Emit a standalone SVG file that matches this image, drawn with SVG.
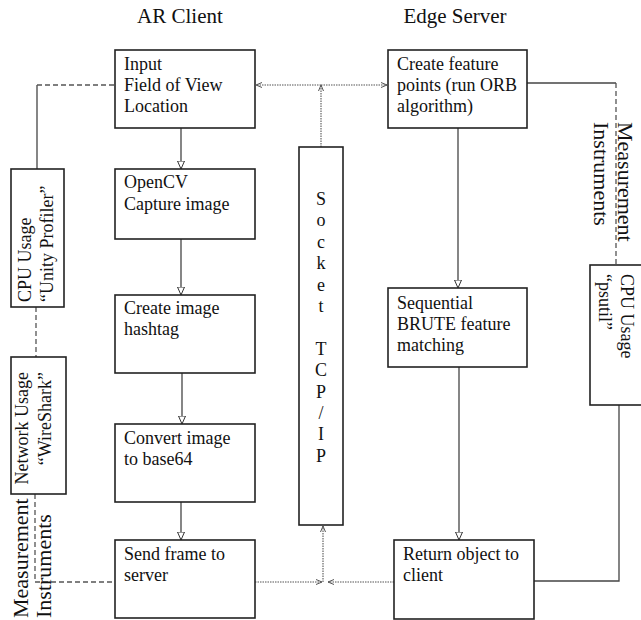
<svg xmlns="http://www.w3.org/2000/svg" width="641" height="620" viewBox="0 0 641 620">
<defs>
<style>
text{font-family:"Liberation Serif","Times New Roman",serif;fill:#111;}
.t{font-size:18px;}
.h{font-size:21px;text-anchor:middle;}
.m{font-size:22px;}
.box{fill:#fff;stroke:#222;stroke-width:1.6;}
.sol{fill:none;stroke:#444;stroke-width:1.3;}
.dash{fill:none;stroke:#555;stroke-width:1.3;stroke-dasharray:5,3;}
.dot{fill:none;stroke:#555;stroke-width:1.1;stroke-dasharray:1.5,1;}
.arr{marker-end:url(#tri);}
.sk{font-size:18px;text-anchor:middle;}
</style>
<marker id="tri" markerUnits="userSpaceOnUse" markerWidth="10" markerHeight="10" refX="8" refY="3.5" orient="auto">
<path d="M0,0 L8,3.5 L0,7 Z" fill="#fff" stroke="#333" stroke-width="1"/>
</marker>
<marker id="chev" markerUnits="userSpaceOnUse" markerWidth="8" markerHeight="8" refX="6" refY="3" orient="auto">
<path d="M0,0.5 L6,3 L0,5.5" fill="none" stroke="#555" stroke-width="1"/>
</marker>
</defs>
<rect width="641" height="620" fill="#fff"/>

<text class="h" x="180" y="23">AR Client</text>
<text class="h" x="455" y="23">Edge Server</text>

<g id="connectors">
<path class="sol arr" d="M181,128 V169"/>
<path class="sol arr" d="M181,239 V295"/>
<path class="sol arr" d="M182,373 V424"/>
<path class="sol arr" d="M181,502 V540"/>
<path class="sol arr" d="M458,128 V288"/>
<path class="sol arr" d="M459,367 V540"/>
<path class="dot" d="M321,147 V85" marker-end="url(#chev)"/>
<path class="dot" d="M321,85 H256" marker-end="url(#chev)"/>
<path class="dot" d="M321,85 H387" marker-end="url(#chev)"/>
<path class="dot" d="M323,582 V526" marker-end="url(#chev)"/>
<path class="dot" d="M255,582 H322" marker-end="url(#chev)"/>
<path class="dot" d="M394,582 H328" marker-end="url(#chev)"/>
<path class="sol" d="M37,169 V85"/>
<path class="dash" d="M37,85 H115"/>
<path class="dash" d="M36,307 V357"/>
<path class="dash" d="M35,494 V582 H115"/>
<path class="sol" d="M527,83 H616"/>
<path class="dash" d="M616,83 V265"/>
<path class="sol" d="M619,405 V581 H534"/>
</g>

<g id="input">
<rect class="box" x="115" y="50" width="140" height="78"/>
<text class="t" x="124" y="70">Input</text>
<text class="t" x="124" y="91">Field of View</text>
<text class="t" x="124" y="112">Location</text>
</g>
<g id="opencv">
<rect class="box" x="115" y="169" width="140" height="70"/>
<text class="t" x="124" y="188">OpenCV</text>
<text class="t" x="124" y="210">Capture image</text>
</g>
<g id="hashtag">
<rect class="box" x="115" y="295" width="140" height="78"/>
<text class="t" x="124" y="314">Create image</text>
<text class="t" x="124" y="335">hashtag</text>
</g>
<g id="convert">
<rect class="box" x="115" y="424" width="140" height="78"/>
<text class="t" x="124" y="444">Convert image</text>
<text class="t" x="124" y="465">to base64</text>
</g>
<g id="send">
<rect class="box" x="115" y="540" width="140" height="78"/>
<text class="t" x="124" y="560">Send frame to</text>
<text class="t" x="124" y="581">server</text>
</g>

<g id="features">
<rect class="box" x="388" y="50" width="139" height="78"/>
<text class="t" x="397" y="70">Create feature</text>
<text class="t" x="397" y="91">points (run ORB</text>
<text class="t" x="397" y="112">algorithm)</text>
</g>
<g id="matching">
<rect class="box" x="388" y="288" width="139" height="79"/>
<text class="t" x="397" y="309">Sequential</text>
<text class="t" x="397" y="330">BRUTE feature</text>
<text class="t" x="397" y="351">matching</text>
</g>
<g id="return">
<rect class="box" x="394" y="540" width="140" height="79"/>
<text class="t" x="403" y="560">Return object to</text>
<text class="t" x="403" y="581">client</text>
</g>

<g id="socket">
<rect class="box" x="299" y="147" width="44" height="378"/>
<text class="sk" x="321" y="205">S</text>
<text class="sk" x="321" y="226.4">o</text>
<text class="sk" x="321" y="247.8">c</text>
<text class="sk" x="321" y="269.2">k</text>
<text class="sk" x="321" y="290.6">e</text>
<text class="sk" x="321" y="312">t</text>
<text class="sk" x="321" y="354.8">T</text>
<text class="sk" x="321" y="376.2">C</text>
<text class="sk" x="321" y="397.6">P</text>
<text class="sk" x="321" y="419">/</text>
<text class="sk" x="321" y="440.4">I</text>
<text class="sk" x="321" y="461.8">P</text>
</g>

<g id="cpu-client">
<rect class="box" x="11" y="169" width="53" height="138"/>
<text class="t" transform="translate(31,302) rotate(-90)">CPU Usage</text>
<text class="t" transform="translate(53,302) rotate(-90)">“Unity Profiler”</text>
</g>
<g id="network-client">
<rect class="box" x="11" y="357" width="55" height="137"/>
<text class="t" text-anchor="end" transform="translate(28,372) rotate(-90)">Network Usage</text>
<text class="t" text-anchor="end" transform="translate(51,372) rotate(-90)">“WireShark”</text>
</g>
<g id="measure-client">
<text class="m" transform="translate(28,618) rotate(-90)">Measurement</text>
<text class="m" transform="translate(51,618) rotate(-90)">Instruments</text>
</g>

<g id="measure-server">
<text class="m" transform="translate(618,122) rotate(90)">Measurement</text>
<text class="m" transform="translate(594,122) rotate(90)">Instruments</text>
</g>
<g id="cpu-server">
<rect class="box" x="590" y="265" width="60" height="140"/>
<text class="t" transform="translate(621,274) rotate(90)">CPU Usage</text>
<text class="t" transform="translate(599,274) rotate(90)">“psutil”</text>
</g>
</svg>
